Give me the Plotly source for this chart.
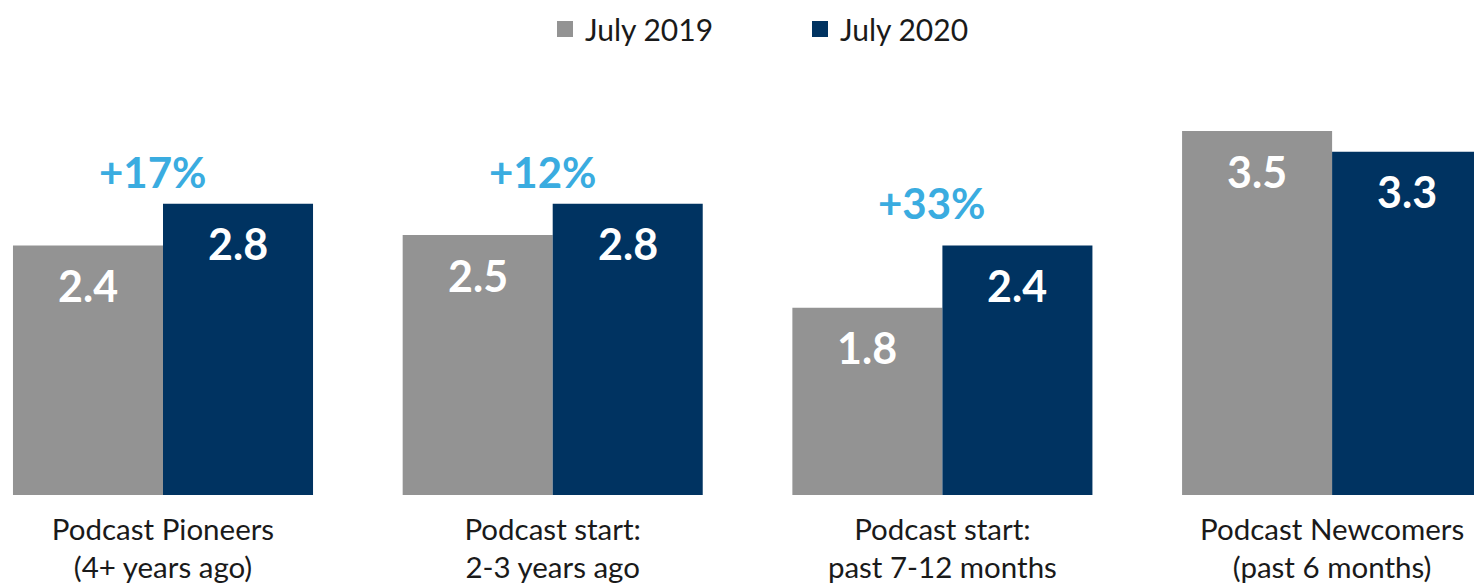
import plotly.graph_objects as go

categories = ["Podcast Pioneers<br>(4+ years ago)", "Podcast start:<br>2-3 years ago",
              "Podcast start:<br>past 7-12 months", "Podcast Newcomers<br>(past 6 months)"]
series_names = ["July 2019", "July 2020"]
values_2019 = [2.4, 2.5, 1.8, 3.5]
values_2020 = [2.8, 2.8, 2.4, 3.3]
change_labels = ["+17%", "+12%", "+33%", None]

GRAY = "#939393"
NAVY = "#003361"
BLUE = "#3AACE0"
FONT = "Lato"

fig = go.Figure()
for name, vals, col in [(series_names[0], values_2019, GRAY), (series_names[1], values_2020, NAVY)]:
    fig.add_trace(go.Bar(x=categories, y=vals, name=name, marker=dict(color=col, line=dict(width=0)),
                         showlegend=False, hoverinfo="skip"))
    fig.add_trace(go.Scatter(x=[None], y=[None], mode="markers", name=name,
                             marker=dict(symbol="square", size=16, color=col), showlegend=True))

ann = []
for cat, v19, v20 in zip(categories, values_2019, values_2020):
    for v, dx in [(v19, -75), (v20, 75)]:
        ann.append(dict(x=cat, y=v, xshift=dx, yshift=-40, text=f"<b>{v:.1f}</b>", showarrow=False,
                        font=dict(family=FONT, size=43, color="white"), yanchor="middle"))
for cat, v20, lab, ys in zip(categories, values_2020, change_labels, [32, 32, 42, 0]):
    if lab:
        ann.append(dict(x=cat, y=v20, xshift=-10, yshift=ys, text=f"<b>{lab}</b>", showarrow=False,
                        font=dict(family=FONT, size=42, color=BLUE), yanchor="middle"))

W, H = 1474, 576
T, B = 60, 89
fig.update_layout(
    width=W, height=H,
    margin=dict(l=0, r=0, t=T, b=B, autoexpand=False),
    paper_bgcolor="white", plot_bgcolor="white",
    barmode="group", bargap=0.23, bargroupgap=0,
    font=dict(family=FONT, color="#1a1a1a"),
    xaxis=dict(range=[-155 / 389.7, (W - 155) / 389.7], showgrid=False, showline=False, ticks="",
               ticklabelstandoff=14, automargin=False,
               tickfont=dict(family=FONT, size=29.5, color="#1a1a1a")),
    yaxis=dict(range=[0, (H - T - B) / 104], visible=False, showgrid=False, automargin=False),
    legend=dict(orientation="h", x=537 / W, xanchor="left",
                y=1 + (T - 21) / (H - T - B), yanchor="middle",
                font=dict(family=FONT, size=30, color="#1a1a1a"), entrywidth=210, itemwidth=30),
    annotations=ann,
)
fig.write_html("out.html")
